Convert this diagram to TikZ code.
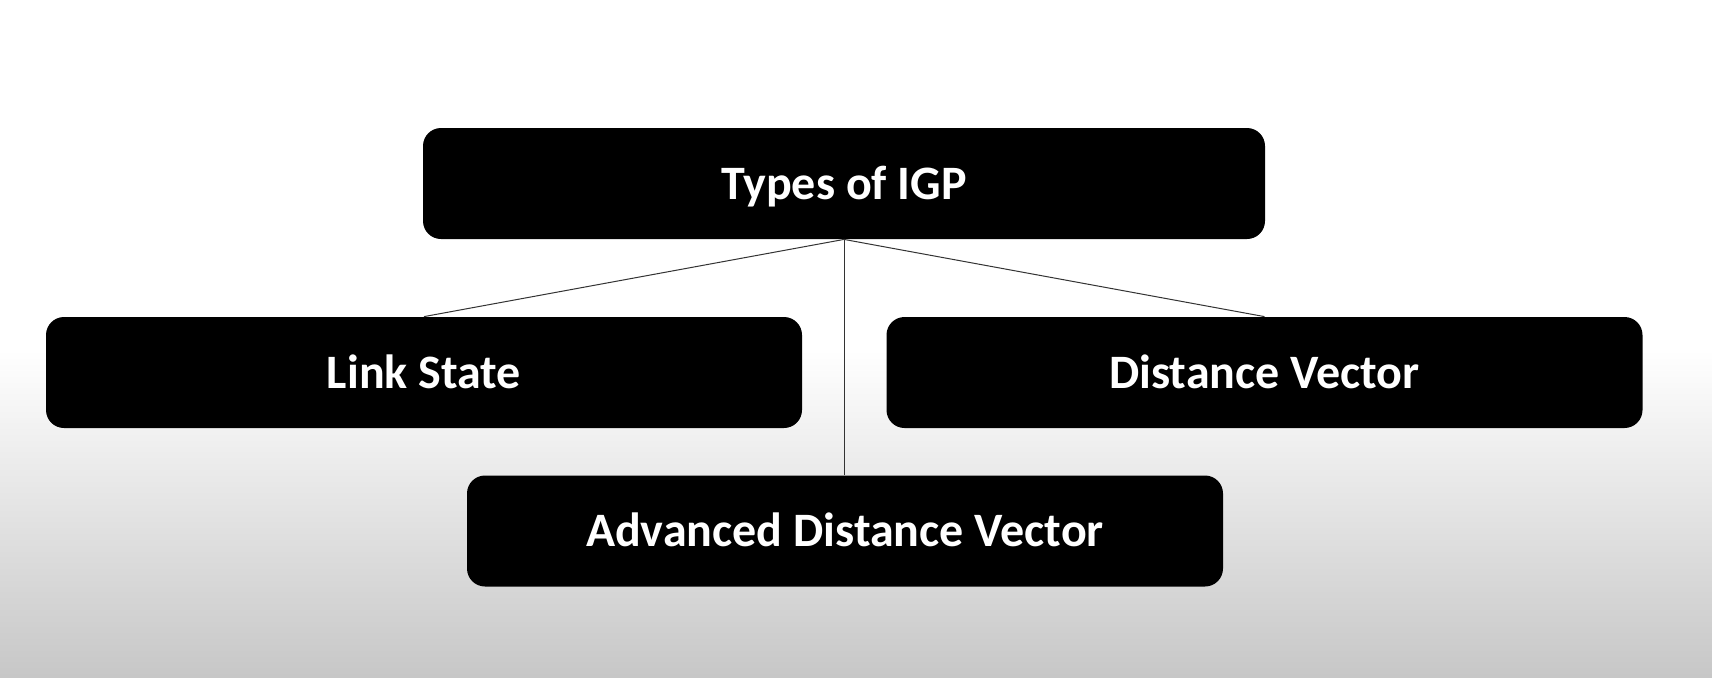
\documentclass[tikz,border=0pt]{standalone}
\usepackage{fontspec}
\setmainfont{Carlito}
\tikzset{
  igpbox/.style={rectangle, rounded corners=9pt, fill=black, text=white,
    font=\bfseries\fontsize{24}{28}\selectfont, minimum height=55.5pt, inner sep=0pt,
    text height=20pt, text depth=4.5pt},
  igpline/.style={black!80, line width=0.5pt}
}
\begin{document}
\begin{tikzpicture}[x=0.5pt, y=-0.5pt]
\useasboundingbox (0,0) rectangle (1712,677);

% background
\fill[white] (0,0) rectangle (1712,350);
\shade[top color=white, bottom color=black!22] (0,350) rectangle (1712,677);

% top box
\node[igpbox, minimum width=421pt] (igp) at (844,183.5) {Types of IGP};

% second row
\node[igpbox, minimum width=378pt] (ls) at (424,372.5) {Link State};
\node[igpbox, minimum width=378pt] (dv) at (1264.5,372.5) {Distance Vector};

% third row
\node[igpbox, minimum width=378pt] (adv) at (845,531) {Advanced Distance Vector};

% connectors
\draw[igpline] (igp.south) -- (ls.north);
\draw[igpline] (igp.south) -- (dv.north);
\draw[igpline] (igp.south) -- (igp.south |- adv.north);
\end{tikzpicture}
\end{document}
